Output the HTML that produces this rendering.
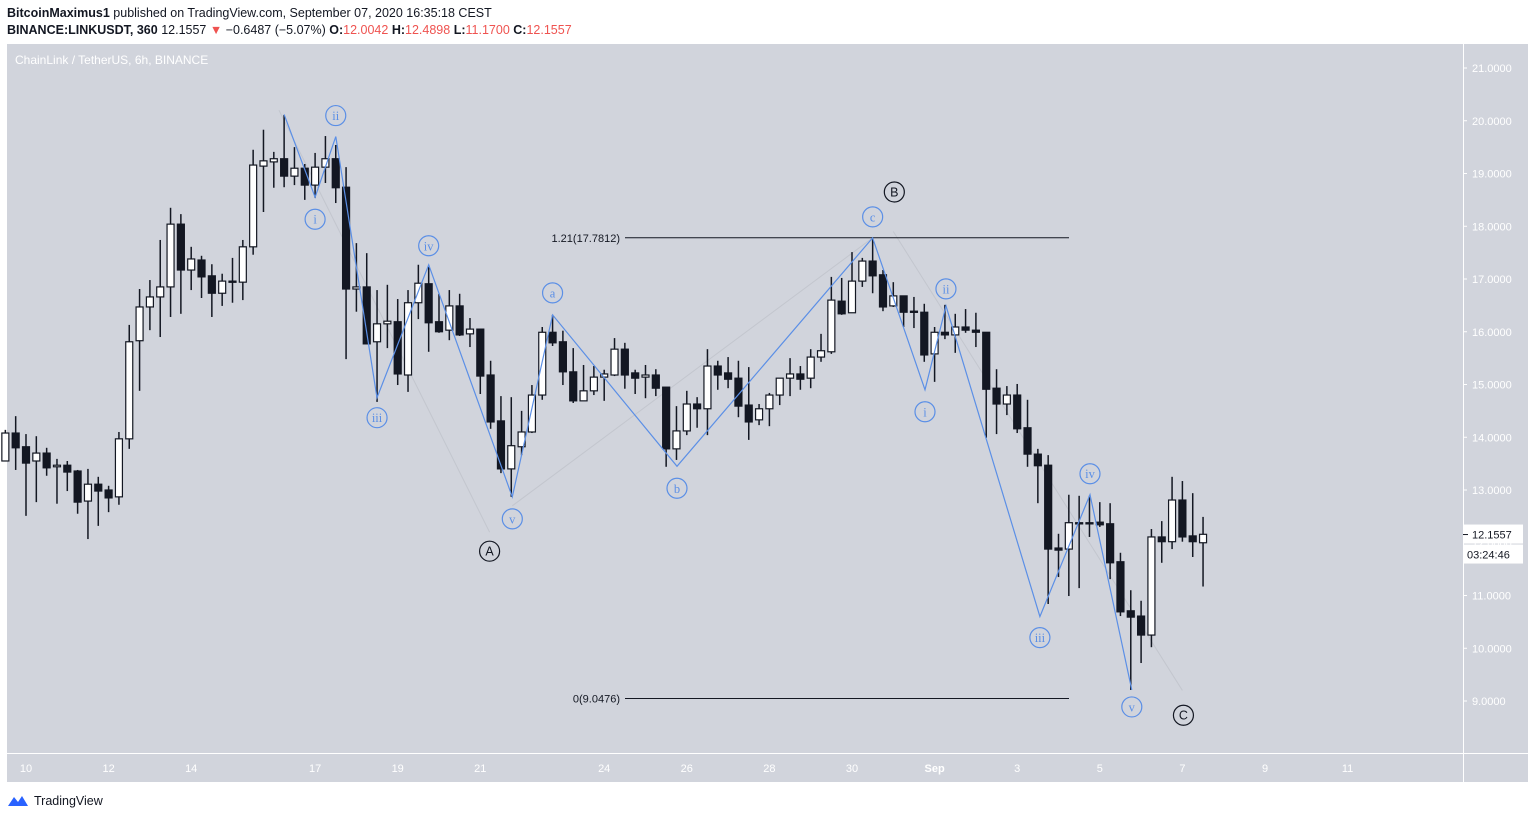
<!DOCTYPE html>
<html><head><meta charset="utf-8"><style>
html,body{margin:0;padding:0;background:#fff;width:1536px;height:819px;overflow:hidden;font-family:"Liberation Sans",sans-serif}
svg{display:block}
</style></head><body>
<svg id="chart" width="1536" height="819" xmlns="http://www.w3.org/2000/svg">
<text x="7" y="17" font-size="12.5" fill="#131722"><tspan font-weight="bold">BitcoinMaximus1</tspan> published on TradingView.com, September 07, 2020 16:35:18 CEST</text>
<text x="7" y="34" font-size="12.5" fill="#131722"><tspan font-weight="bold">BINANCE:LINKUSDT, 360</tspan> 12.1557 <tspan fill="#ef5350">▼</tspan> −0.6487 (−5.07%) <tspan font-weight="bold">O:</tspan><tspan fill="#ef5350">12.0042</tspan> <tspan font-weight="bold">H:</tspan><tspan fill="#ef5350">12.4898</tspan> <tspan font-weight="bold">L:</tspan><tspan fill="#ef5350">11.1700</tspan> <tspan font-weight="bold">C:</tspan><tspan fill="#ef5350">12.1557</tspan></text>
<rect x="7" y="44" width="1521" height="738" fill="#d1d4dc"/>
<line x1="1463.5" y1="44" x2="1463.5" y2="782" stroke="#fff" stroke-width="1"/>
<line x1="7" y1="753.5" x2="1528" y2="753.5" stroke="#fff" stroke-width="1"/>
<text x="15" y="64" font-size="12" fill="#fff">ChainLink / TetherUS, 6h, BINANCE</text>
<g id="grey"></g><g id="candles"></g><g id="waves"></g><g id="yaxis"></g><g id="xaxis"></g><g id="labels"></g>
<g>
<path d="M8 806 l6 -9 l4 5 l4 -6 l6 10 z" fill="#2962ff"/>
<text x="34" y="805" font-size="12.5" fill="#131722">TradingView</text>
</g>
</svg>
<script>
const opens=[13.55,14.08,13.82,13.55,13.70,13.44,13.47,13.36,12.79,13.11,13.00,12.87,13.97,15.83,16.47,16.66,16.85,18.04,17.17,17.36,17.06,16.73,16.94,16.94,17.61,19.14,19.22,19.28,18.95,19.10,18.78,19.12,19.28,18.74,16.81,16.85,15.81,16.15,16.19,15.18,16.55,16.91,16.19,16.03,16.49,15.96,16.05,15.18,14.31,13.40,13.82,14.10,14.80,15.99,15.81,15.24,14.69,14.88,15.14,15.18,15.67,15.22,15.14,15.18,14.95,13.78,14.12,14.63,14.54,15.35,15.22,15.12,14.61,14.33,14.54,14.80,15.12,15.20,15.12,15.52,15.62,16.58,16.36,16.96,17.34,17.08,16.49,16.68,16.39,16.37,15.58,15.99,15.94,16.09,16.03,15.99,14.93,14.63,14.80,14.18,13.68,13.47,11.90,11.88,12.36,12.38,12.39,12.36,11.64,10.71,10.61,10.25,12.11,12.02,12.81,12.13,12.00];
const highs=[14.14,14.40,14.06,14.02,13.80,13.59,13.55,13.38,13.40,13.25,13.08,14.10,16.13,16.81,16.98,17.74,18.35,18.23,17.61,17.44,17.28,17.10,17.40,17.74,19.45,19.83,19.41,20.11,19.50,19.18,19.39,19.71,19.54,19.12,17.68,17.49,16.79,16.89,16.62,16.79,17.27,17.23,16.72,16.79,16.72,16.26,16.05,15.45,14.78,14.76,14.50,14.99,16.09,16.32,16.02,15.69,15.37,15.35,15.28,15.88,15.79,15.28,15.37,15.29,14.95,14.59,14.88,14.76,15.67,15.45,15.52,15.45,15.33,14.63,14.84,15.12,15.50,15.35,15.67,15.96,17.04,17.02,17.51,17.40,17.78,17.17,16.94,16.68,16.66,16.53,16.09,16.51,16.34,16.43,16.36,15.99,15.29,14.97,15.01,14.71,13.78,13.66,12.17,12.91,12.89,12.89,12.77,12.75,11.81,11.10,10.90,12.26,12.41,13.25,13.17,12.94,12.49];
const lows=[13.55,13.38,12.51,12.77,13.27,12.74,12.98,12.55,12.07,12.32,12.58,12.72,13.78,14.88,16.03,15.90,16.28,16.34,16.79,16.64,16.28,16.49,16.55,16.60,17.46,18.27,18.73,18.74,18.78,18.50,18.54,18.82,18.44,15.48,16.38,15.77,14.67,15.69,14.99,14.86,16.24,15.62,15.98,15.84,15.92,15.71,14.82,14.16,13.32,12.87,13.66,14.08,14.71,15.73,14.99,14.65,14.69,14.80,14.69,15.16,14.92,14.82,14.74,14.78,13.44,13.57,14.04,14.18,14.04,14.90,14.93,14.38,13.95,14.23,14.21,14.61,14.78,14.90,14.93,15.43,15.58,16.32,16.36,16.85,16.73,16.39,16.47,16.09,16.07,15.43,15.05,15.86,15.60,15.98,15.71,13.99,14.06,14.42,14.08,13.44,12.75,10.84,11.35,10.99,11.14,12.11,12.30,11.31,10.61,9.21,9.72,10.02,11.62,11.88,12.02,11.73,11.17];
const closes=[14.08,13.80,13.51,13.70,13.42,13.47,13.34,12.77,13.11,12.98,12.85,13.97,15.81,16.47,16.66,16.85,18.04,17.17,17.38,17.04,16.73,16.96,16.96,17.61,19.16,19.24,19.28,18.95,19.10,18.78,19.12,19.28,18.73,16.81,16.85,15.77,16.15,16.20,15.20,16.55,16.92,16.17,16.00,16.49,15.94,16.05,15.16,14.29,13.40,13.84,14.10,14.80,15.99,15.79,15.24,14.69,14.88,15.14,15.20,15.67,15.18,15.12,15.18,14.93,13.78,14.12,14.63,14.54,15.35,15.18,15.10,14.59,14.29,14.54,14.80,15.12,15.20,15.10,15.52,15.64,16.60,16.34,16.96,17.34,17.06,16.47,16.68,16.37,16.37,15.56,15.99,15.94,16.09,16.03,15.99,14.91,14.63,14.80,14.16,13.68,13.46,11.88,11.86,12.38,12.38,12.36,12.34,11.62,10.69,10.59,10.25,12.11,12.02,12.81,12.11,12.02,12.16];
// wave polyline: candle index & price
const waveIdx=[27.0,30.0,32.0,36.0,41.0,49.1,53.0,65.05,84.0,89.07,91.1,100.2,105.05,109.1];
const wavePrice=[20.12,18.55,19.70,14.75,17.27,12.87,16.32,13.45,17.78,14.90,16.49,10.60,12.91,9.21];
const waveLabels=["","i","ii","iii","iv","v","a","b","c","i","ii","iii","iv","v"];
const majorIdx=[46.9,86.1,114.1];const majorPrice=[11.84,18.65,8.73];const majorLabels=["A","B","C"];
const fibPrices=[17.7812,9.0476];const fibLabels=["1.21(17.7812)","0(9.0476)"];
const yTicks=[9,10,11,12,13,14,15,16,17,18,19,20,21];
const dayLabels=["10","12","14","17","19","21","24","26","28","30","Sep","3","5","7","9","11"];
const dayOffsets=[0,2,4,7,9,11,14,16,18,20,22,24,26,28,30,32];
const lastPrice="12.1557",countdown="03:24:46";

const NS="http://www.w3.org/2000/svg";
const yS=p=>701-(p-9)*52.75;
const xD=d=>26+d*41.3;
const xI=i=>xD((i-2)/4);
function mk(tag,attrs,parent){const e=document.createElementNS(NS,tag);for(const k in attrs)e.setAttribute(k,attrs[k]);parent.appendChild(e);return e;}
const cg=document.getElementById('candles');
for(let i=0;i<opens.length;i++){
  const x=xI(i),o=opens[i],c=closes[i],up=c>=o;
  const g=mk('g',{},cg);
  
  
  mk('line',{x1:x,x2:x,y1:yS(highs[i]),y2:yS(lows[i]),stroke:'#131722','stroke-width':1.5},g);
  const t=yS(Math.max(o,c)),b=yS(Math.min(o,c));
  mk('rect',{x:x-3.5,y:t,width:7,height:Math.max(b-t,1.2),fill:up?'#fff':'#131722',stroke:'#131722','stroke-width':1.2},g);
}
const gg=document.getElementById('grey');
[[[26.5,20.2],[46.9,12.2]],[[49.1,12.7],[84,17.78]],[[86,17.9],[114,9.2]]].forEach(s=>{
  const l=mk('line',{x1:xI(s[0][0]),y1:yS(s[0][1]),x2:xI(s[1][0]),y2:yS(s[1][1]),stroke:'#c3c6ce','stroke-width':1},gg);
  
  
});
fibPrices.forEach((p,k)=>{
  const l=mk('line',{x1:625,x2:1069,y1:yS(p),y2:yS(p),stroke:'#131722','stroke-width':1},gg);
  
  
  const t=mk('text',{x:620,y:yS(p)+4,'font-size':11,fill:'#131722','text-anchor':'end'},gg);
  t.textContent=fibLabels[k];
  
  
});
const wg=document.getElementById('waves');
const pts=waveIdx.map((v,k)=>xI(v).toFixed(1)+','+yS(wavePrice[k]).toFixed(1)).join(' ');
const pl=mk('polyline',{points:pts,fill:'none',stroke:'#5b8fe6','stroke-width':1.2},wg);


const lg=document.getElementById('labels');
const offs=[0,22,-21,20,-19,22,-22,22,-21,22,-17,21,-21,17];
waveLabels.forEach((s,k)=>{
  if(!s)return;
  const cx=xI(waveIdx[k]),cy=yS(wavePrice[k])+offs[k];
  const g=mk('g',{},lg);
  
  
  mk('circle',{cx:cx,cy:cy,r:10,fill:'none',stroke:'#5b8fe6','stroke-width':1.2},g);
  const t=mk('text',{x:cx,y:cy+4.5,'font-size':12.5,fill:'#5b8fe6','text-anchor':'middle','font-family':'Liberation Serif, serif'},g);
  t.textContent=s;
});
majorLabels.forEach((s,k)=>{
  const cx=xI(majorIdx[k]),cy=yS(majorPrice[k]);
  const g=mk('g',{},lg);
  
  
  mk('circle',{cx:cx,cy:cy,r:10,fill:'none',stroke:'#131722','stroke-width':1.2},g);
  const t=mk('text',{x:cx,y:cy+4.5,'font-size':12.5,fill:'#131722','text-anchor':'middle'},g);
  t.textContent=s;
});
const yg=document.getElementById('yaxis');
yTicks.forEach(v=>{
  const y=yS(v);
  mk('line',{x1:1463,x2:1467,y1:y,y2:y,stroke:'#fff'},yg);
  const t=mk('text',{x:1472,y:y+4,'font-size':11,fill:'#fff'},yg);
  t.textContent=v.toFixed(4);
  
  
});
const ly=yS(parseFloat(lastPrice));
const lb=mk('rect',{x:1463,y:ly-10,width:60,height:19,fill:'#fff'},yg);


mk('line',{x1:1463,x2:1468,y1:ly,y2:ly,stroke:'#131722'},yg);
const lt=mk('text',{x:1472,y:ly+4,'font-size':11,fill:'#131722'},yg);lt.textContent=lastPrice;
const cb=mk('rect',{x:1463,y:ly+10,width:60,height:19,fill:'#fff'},yg);


const ct=mk('text',{x:1467,y:ly+24,'font-size':11,fill:'#131722'},yg);ct.textContent=countdown;
const xg=document.getElementById('xaxis');
dayLabels.forEach((s,k)=>{
  const t=mk('text',{x:xD(dayOffsets[k]),y:772,'font-size':11,fill:'#fff','text-anchor':'middle','font-weight':s==='Sep'?'bold':'normal'},xg);
  t.textContent=s;
  
  
});
</script>
</body></html>
